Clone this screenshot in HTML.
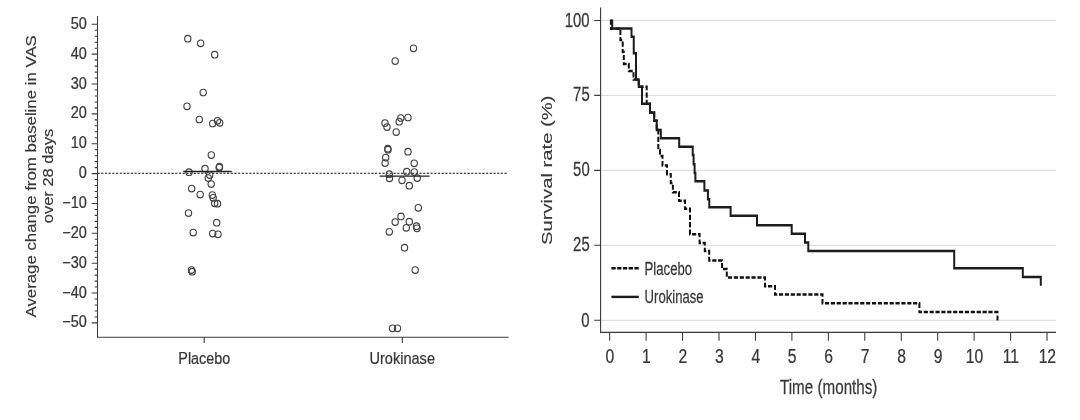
<!DOCTYPE html>
<html lang="en">
<head>
<meta charset="utf-8">
<title>Urokinase vs placebo</title>
<style>
html,body{margin:0;padding:0;background:#fff;}
body{width:1080px;height:420px;overflow:hidden;}
svg{display:block;font-family:"Liberation Sans",sans-serif;}
</style>
</head>
<body>
<svg width="1080" height="420" viewBox="0 0 1080 420">
<rect width="1080" height="420" fill="#fff"/>
<g stroke="#3c3c3c" stroke-width="1.05" fill="none">
<path d="M97.5,16.0 V337.25 H508.6"/>
<path d="M91.70,322.90H97.5M94.70,316.93H97.5M94.70,310.96H97.5M94.70,304.98H97.5M94.70,299.01H97.5M91.70,293.04H97.5M94.70,287.07H97.5M94.70,281.10H97.5M94.70,275.12H97.5M94.70,269.15H97.5M91.70,263.18H97.5M94.70,257.21H97.5M94.70,251.24H97.5M94.70,245.26H97.5M94.70,239.29H97.5M91.70,233.32H97.5M94.70,227.35H97.5M94.70,221.38H97.5M94.70,215.40H97.5M94.70,209.43H97.5M91.70,203.46H97.5M94.70,197.49H97.5M94.70,191.52H97.5M94.70,185.54H97.5M94.70,179.57H97.5M91.70,173.60H97.5M94.70,167.63H97.5M94.70,161.66H97.5M94.70,155.68H97.5M94.70,149.71H97.5M91.70,143.74H97.5M94.70,137.77H97.5M94.70,131.80H97.5M94.70,125.82H97.5M94.70,119.85H97.5M91.70,113.88H97.5M94.70,107.91H97.5M94.70,101.94H97.5M94.70,95.96H97.5M94.70,89.99H97.5M91.70,84.02H97.5M94.70,78.05H97.5M94.70,72.08H97.5M94.70,66.10H97.5M94.70,60.13H97.5M91.70,54.16H97.5M94.70,48.19H97.5M94.70,42.22H97.5M94.70,36.24H97.5M94.70,30.27H97.5M91.70,24.30H97.5" stroke-width="1.1"/>
<path d="M204.2,337.1V342.9M402.3,337.1V342.9" stroke-width="1.1"/>
</g>
<path d="M97.5,173.25H507.8" stroke="#111" stroke-width="1.2" stroke-dasharray="2.2 1.5" fill="none"/>
<text transform="translate(62.21,327.40) scale(0.9300,1)" font-size="15.6" fill="#383838" stroke="#383838" stroke-width="0.25">−50</text>
<text transform="translate(62.21,297.54) scale(0.9300,1)" font-size="15.6" fill="#383838" stroke="#383838" stroke-width="0.25">−40</text>
<text transform="translate(62.21,267.68) scale(0.9300,1)" font-size="15.6" fill="#383838" stroke="#383838" stroke-width="0.25">−30</text>
<text transform="translate(62.21,237.82) scale(0.9300,1)" font-size="15.6" fill="#383838" stroke="#383838" stroke-width="0.25">−20</text>
<text transform="translate(62.21,207.96) scale(0.9300,1)" font-size="15.6" fill="#383838" stroke="#383838" stroke-width="0.25">−10</text>
<text transform="translate(78.75,178.10) scale(0.9300,1)" font-size="15.6" fill="#383838" stroke="#383838" stroke-width="0.25">0</text>
<text transform="translate(70.70,148.24) scale(0.9300,1)" font-size="15.6" fill="#383838" stroke="#383838" stroke-width="0.25">10</text>
<text transform="translate(70.70,118.38) scale(0.9300,1)" font-size="15.6" fill="#383838" stroke="#383838" stroke-width="0.25">20</text>
<text transform="translate(70.70,88.52) scale(0.9300,1)" font-size="15.6" fill="#383838" stroke="#383838" stroke-width="0.25">30</text>
<text transform="translate(70.70,58.66) scale(0.9300,1)" font-size="15.6" fill="#383838" stroke="#383838" stroke-width="0.25">40</text>
<text transform="translate(70.70,28.80) scale(0.9300,1)" font-size="15.6" fill="#383838" stroke="#383838" stroke-width="0.25">50</text>
<text transform="translate(178.30,363.75) scale(0.8562,1)" font-size="16.8" fill="#383838" stroke="#383838" stroke-width="0.25">Placebo</text>
<text transform="translate(369.50,363.75) scale(0.8664,1)" font-size="16.8" fill="#383838" stroke="#383838" stroke-width="0.25">Urokinase</text>
<text transform="translate(35.50,317.50) rotate(-90) scale(1.1756,1)" font-size="14.3" fill="#383838" stroke="#383838" stroke-width="0.15">Average change from baseline in VAS</text>
<text transform="translate(53.10,223.30) rotate(-90) scale(1.1555,1)" font-size="14.3" fill="#383838" stroke="#383838" stroke-width="0.15">over 28 days</text>
<g fill="none" stroke="#444" stroke-width="1.15">
<ellipse cx="187.8" cy="38.7" rx="3.15" ry="3.3"/>
<ellipse cx="200.7" cy="43.3" rx="3.15" ry="3.3"/>
<ellipse cx="214.7" cy="54.7" rx="3.15" ry="3.3"/>
<ellipse cx="203.2" cy="92.5" rx="3.15" ry="3.3"/>
<ellipse cx="187" cy="106.3" rx="3.15" ry="3.3"/>
<ellipse cx="199.3" cy="119.5" rx="3.15" ry="3.3"/>
<ellipse cx="212.7" cy="123.5" rx="3.15" ry="3.3"/>
<ellipse cx="217.5" cy="120.8" rx="3.15" ry="3.3"/>
<ellipse cx="219.7" cy="122.8" rx="3.15" ry="3.3"/>
<ellipse cx="211.3" cy="155" rx="3.15" ry="3.3"/>
<ellipse cx="205" cy="168.7" rx="3.15" ry="3.3"/>
<ellipse cx="219.5" cy="166.7" rx="3.15" ry="3.3"/>
<ellipse cx="219.2" cy="167.5" rx="3.15" ry="3.3"/>
<ellipse cx="189" cy="172.2" rx="3.15" ry="3.3"/>
<ellipse cx="209.7" cy="175" rx="3.15" ry="3.3"/>
<ellipse cx="208.3" cy="178" rx="3.15" ry="3.3"/>
<ellipse cx="211.2" cy="184" rx="3.15" ry="3.3"/>
<ellipse cx="191.7" cy="188.5" rx="3.15" ry="3.3"/>
<ellipse cx="200.2" cy="194.5" rx="3.15" ry="3.3"/>
<ellipse cx="212.3" cy="195" rx="3.15" ry="3.3"/>
<ellipse cx="213.2" cy="197.8" rx="3.15" ry="3.3"/>
<ellipse cx="214.7" cy="203.3" rx="3.15" ry="3.3"/>
<ellipse cx="217.5" cy="203.7" rx="3.15" ry="3.3"/>
<ellipse cx="188.5" cy="213" rx="3.15" ry="3.3"/>
<ellipse cx="216.7" cy="222.7" rx="3.15" ry="3.3"/>
<ellipse cx="193.2" cy="232.5" rx="3.15" ry="3.3"/>
<ellipse cx="212.7" cy="233.5" rx="3.15" ry="3.3"/>
<ellipse cx="218" cy="234.3" rx="3.15" ry="3.3"/>
<ellipse cx="191.5" cy="270" rx="3.15" ry="3.3"/>
<ellipse cx="192.2" cy="271.7" rx="3.15" ry="3.3"/>
<ellipse cx="413.5" cy="48.3" rx="3.15" ry="3.3"/>
<ellipse cx="395.2" cy="61" rx="3.15" ry="3.3"/>
<ellipse cx="385" cy="123" rx="3.15" ry="3.3"/>
<ellipse cx="387" cy="127" rx="3.15" ry="3.3"/>
<ellipse cx="400.8" cy="118" rx="3.15" ry="3.3"/>
<ellipse cx="399.2" cy="121.7" rx="3.15" ry="3.3"/>
<ellipse cx="408" cy="117.5" rx="3.15" ry="3.3"/>
<ellipse cx="396.2" cy="132" rx="3.15" ry="3.3"/>
<ellipse cx="387.8" cy="148.7" rx="3.15" ry="3.3"/>
<ellipse cx="388" cy="149.7" rx="3.15" ry="3.3"/>
<ellipse cx="408" cy="151.7" rx="3.15" ry="3.3"/>
<ellipse cx="385.7" cy="157.5" rx="3.15" ry="3.3"/>
<ellipse cx="385.1" cy="163" rx="3.15" ry="3.3"/>
<ellipse cx="414.2" cy="163.3" rx="3.15" ry="3.3"/>
<ellipse cx="406.7" cy="171.7" rx="3.15" ry="3.3"/>
<ellipse cx="414.3" cy="172" rx="3.15" ry="3.3"/>
<ellipse cx="389.3" cy="174.2" rx="3.15" ry="3.3"/>
<ellipse cx="389.5" cy="178.3" rx="3.15" ry="3.3"/>
<ellipse cx="402" cy="180.3" rx="3.15" ry="3.3"/>
<ellipse cx="417.2" cy="178" rx="3.15" ry="3.3"/>
<ellipse cx="409.3" cy="185.7" rx="3.15" ry="3.3"/>
<ellipse cx="418.3" cy="207.8" rx="3.15" ry="3.3"/>
<ellipse cx="401" cy="216.4" rx="3.15" ry="3.3"/>
<ellipse cx="395.2" cy="222" rx="3.15" ry="3.3"/>
<ellipse cx="409.3" cy="221.7" rx="3.15" ry="3.3"/>
<ellipse cx="406.3" cy="227.8" rx="3.15" ry="3.3"/>
<ellipse cx="416.5" cy="226.2" rx="3.15" ry="3.3"/>
<ellipse cx="417" cy="228.3" rx="3.15" ry="3.3"/>
<ellipse cx="389.3" cy="231.8" rx="3.15" ry="3.3"/>
<ellipse cx="404.5" cy="247.7" rx="3.15" ry="3.3"/>
<ellipse cx="415.2" cy="270" rx="3.15" ry="3.3"/>
<ellipse cx="392.5" cy="328.3" rx="3.15" ry="3.3"/>
<ellipse cx="397.5" cy="328.3" rx="3.15" ry="3.3"/>
</g>
<path d="M183.3,171.5H231.7M379.7,176.2H429.5" stroke="#222" stroke-width="1.3" fill="none"/>
<path d="M600.6,320.30H1056.0M600.6,245.32H1056.0M600.6,170.35H1056.0M600.6,95.38H1056.0M600.6,20.40H1056.0" stroke="#d9d9d9" stroke-width="1" fill="none"/>
<g stroke="#3a3a3a" stroke-width="1.1" fill="none">
<path d="M600.6,7.5 V332.4 H1056.0"/>
<path d="M594.20,320.30H600.6M594.20,245.32H600.6M594.20,170.35H600.6M594.20,95.38H600.6M594.20,20.40H600.6M609.65,332.4V340.8M646.10,332.4V340.8M682.55,332.4V340.8M719.00,332.4V340.8M755.45,332.4V340.8M791.90,332.4V340.8M828.35,332.4V340.8M864.80,332.4V340.8M901.25,332.4V340.8M937.70,332.4V340.8M974.15,332.4V340.8M1010.60,332.4V340.8M1047.05,332.4V340.8" stroke-width="1.05"/>
</g>
<text transform="translate(581.36,326.50) scale(0.7500,1)" font-size="19.8" fill="#383838" stroke="#383838" stroke-width="0.25">0</text>
<text transform="translate(573.12,251.12) scale(0.7500,1)" font-size="19.8" fill="#383838" stroke="#383838" stroke-width="0.25">25</text>
<text transform="translate(573.12,175.75) scale(0.7500,1)" font-size="19.8" fill="#383838" stroke="#383838" stroke-width="0.25">50</text>
<text transform="translate(573.12,101.28) scale(0.7500,1)" font-size="19.8" fill="#383838" stroke="#383838" stroke-width="0.25">75</text>
<text transform="translate(564.80,26.90) scale(0.7500,1)" font-size="19.8" fill="#383838" stroke="#383838" stroke-width="0.25">100</text>
<text transform="translate(605.59,362.90) scale(0.7700,1)" font-size="20.4" fill="#383838" stroke="#383838" stroke-width="0.25">0</text>
<text transform="translate(642.04,362.90) scale(0.7700,1)" font-size="20.4" fill="#383838" stroke="#383838" stroke-width="0.25">1</text>
<text transform="translate(678.49,362.90) scale(0.7700,1)" font-size="20.4" fill="#383838" stroke="#383838" stroke-width="0.25">2</text>
<text transform="translate(714.94,362.90) scale(0.7700,1)" font-size="20.4" fill="#383838" stroke="#383838" stroke-width="0.25">3</text>
<text transform="translate(751.39,362.90) scale(0.7700,1)" font-size="20.4" fill="#383838" stroke="#383838" stroke-width="0.25">4</text>
<text transform="translate(787.84,362.90) scale(0.7700,1)" font-size="20.4" fill="#383838" stroke="#383838" stroke-width="0.25">5</text>
<text transform="translate(824.29,362.90) scale(0.7700,1)" font-size="20.4" fill="#383838" stroke="#383838" stroke-width="0.25">6</text>
<text transform="translate(860.74,362.90) scale(0.7700,1)" font-size="20.4" fill="#383838" stroke="#383838" stroke-width="0.25">7</text>
<text transform="translate(897.19,362.90) scale(0.7700,1)" font-size="20.4" fill="#383838" stroke="#383838" stroke-width="0.25">8</text>
<text transform="translate(933.64,362.90) scale(0.7700,1)" font-size="20.4" fill="#383838" stroke="#383838" stroke-width="0.25">9</text>
<text transform="translate(965.73,362.90) scale(0.7700,1)" font-size="20.4" fill="#383838" stroke="#383838" stroke-width="0.25">10</text>
<text transform="translate(1002.73,362.90) scale(0.7700,1)" font-size="20.4" fill="#383838" stroke="#383838" stroke-width="0.25">11</text>
<text transform="translate(1038.63,362.90) scale(0.7700,1)" font-size="20.4" fill="#383838" stroke="#383838" stroke-width="0.25">12</text>
<text transform="translate(780.00,394.00) scale(0.7243,1)" font-size="21" fill="#383838" stroke="#383838" stroke-width="0.25">Time (months)</text>
<text transform="translate(552.00,245.00) rotate(-90) scale(1.3060,1)" font-size="15.5" fill="#383838" stroke="#383838" stroke-width="0.15">Survival rate (%)</text>
<g transform="scale(0.8,1)" fill="none">
<path d="M763.62,19.6V28.7H775.50V40H778.38V52H779.75V64H786.00V71H791.88V79.6H798.44V86.7H808.38V103.75H812.50V112.5H817.75V120.8H820.88V130H822.87V150H825.00V156H828.12V165.4H833.75V174.2H838.50V183H841.12V192.3H848.75V200.8H856.25V208.75H862.50V234.2H874.50V243H881.00V251H886.50V260.4H902.50V269H908.50V277.5H956.25V286.25H968.75V294.6H1028.12V303.3H1149.25V312.1H1246.88V320.4" stroke="#111" stroke-width="2.5" stroke-dasharray="5.2 2.15"/>
<path d="M765.25,19.6V28.4H789.38V36.8H792.19V53.3H795.00V79.6H798.44V86.7H802.50V103.75H812.50V112.5H817.75V120.8H820.88V130H826.00V138.3H849.00V146.8H865.88V155H867.00V164.2H868.25V173H869.25V181.25H880.50V190.4H884.87V199.2H886.62V207.2H913.25V215.8H946.25V225.3H989.62V233.8H1006.25V242.5H1010.37V251H1192.75V268.3H1278.50V277H1301.00V285.8" stroke="#1c1c1c" stroke-width="2.5" stroke-linejoin="miter"/>
</g>
<path d="M611.4,268.3H638.8" stroke="#111" stroke-width="2.4" stroke-dasharray="4.3 1.45" fill="none"/>
<path d="M611.4,296.9H638.8" stroke="#1c1c1c" stroke-width="2.4" fill="none"/>
<text transform="translate(644.60,274.50) scale(0.7027,1)" font-size="18.7" fill="#383838" stroke="#383838" stroke-width="0.25">Placebo</text>
<text transform="translate(644.60,302.60) scale(0.7011,1)" font-size="18.7" fill="#383838" stroke="#383838" stroke-width="0.25">Urokinase</text>
</svg>
</body>
</html>
